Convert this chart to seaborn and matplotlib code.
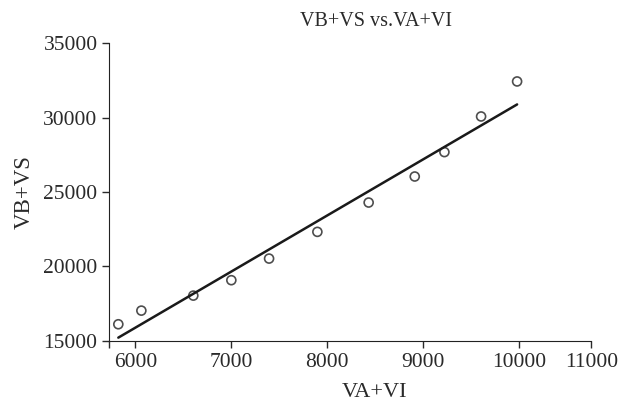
import numpy as np
import pandas as pd
import matplotlib
matplotlib.use("Agg")
import matplotlib.pyplot as plt
import seaborn as sns

# values
va_vi = [5823, 6063, 6604, 7000, 7393, 7896, 8430, 8910, 9219, 9601, 9976]
vb_vs = [16120, 17036, 18044, 19079, 20531, 22325, 24294, 26042, 27681, 30074, 32426]
x_ticks = [6000, 7000, 8000, 9000, 10000]
y_ticks = [15000, 20000, 25000, 30000, 35000]

sns.set_style("ticks")
plt.rcParams["font.family"] = ["Liberation Serif", "DejaVu Serif"]
plt.rcParams["xtick.major.size"] = 5
plt.rcParams["ytick.major.size"] = 5

df = pd.DataFrame({"VA+VI": va_vi, "VB+VS": vb_vs})

fig = plt.figure(figsize=(6.18, 4.03), dpi=100)
ax = fig.add_axes([0.177, 0.154, 0.780, 0.739])

sns.regplot(data=df, x="VA+VI", y="VB+VS", ci=None, ax=ax,
            marker="o",
            scatter_kws={"s": 42, "facecolors": "none", "edgecolors": "#222222", "linewidths": 1.2},
            line_kws={"color": "#1a1a1a", "lw": 1.8})

# the x axis in the original ends with a compressed "11000" tick
x_end = 10750
ax.set_xlim(5730, x_end)
ax.set_ylim(15000, 35000)
ax.set_xticks([5730] + x_ticks + [x_end])
ax.set_xticklabels([""] + [str(t) for t in x_ticks] + ["11000"])
ax.set_yticks(y_ticks)
ax.set_yticklabels([str(t) for t in y_ticks])
ax.tick_params(labelsize=15.5, colors="#2a2a2a", width=1)

for s in ["top", "right"]:
    ax.spines[s].set_visible(False)
for s in ["left", "bottom"]:
    ax.spines[s].set_color("#222222")

ax.set_xlabel("VA+VI", fontsize=16, color="#2a2a2a", labelpad=8, x=0.55)
ax.set_ylabel("VB+VS", fontsize=16.5, color="#2a2a2a", labelpad=6)
ax.set_title("VB+VS vs.VA+VI", fontsize=14.5, color="#2a2a2a", x=0.553, pad=12)

fig.savefig("out.png", dpi=100)
